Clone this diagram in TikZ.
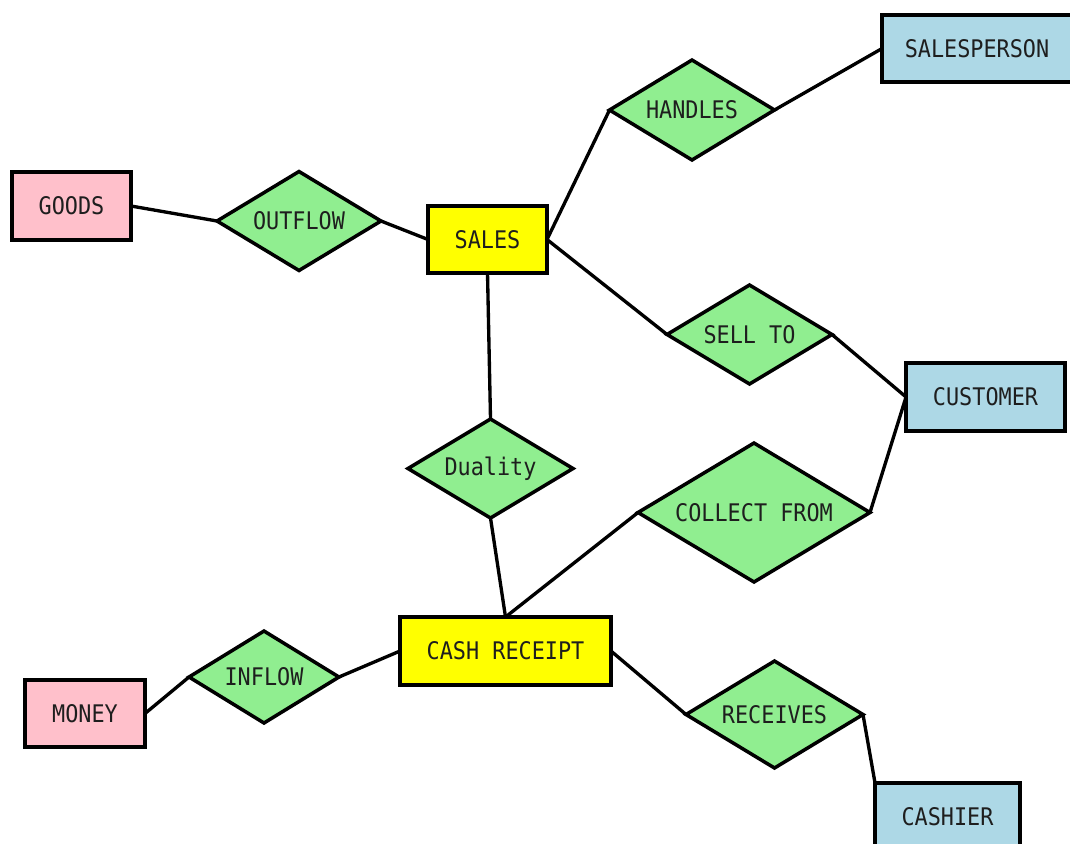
\documentclass[tikz,border=0pt]{standalone}
\usepackage{fontspec}
\newfontfamily\erfont{DejaVu Sans Mono}[FakeStretch=0.9]
\usetikzlibrary{shapes.geometric}
\definecolor{relgreen}{RGB}{144,238,144}
\definecolor{agentblue}{RGB}{173,216,230}
\definecolor{resourcepink}{RGB}{255,192,203}
\definecolor{eventyellow}{RGB}{255,255,0}
\definecolor{labelink}{RGB}{30,30,30}
\begin{document}
\begin{tikzpicture}[x=0.02cm,y=-0.02cm,
  base/.style={draw=black,line width=2pt,inner sep=0pt,outer sep=0pt,
    text=labelink,font=\erfont\fontsize{13.8}{15}\selectfont},
  entity/.style={base,rectangle},
  rel/.style={base,diamond,aspect=1.65,fill=relgreen},
  weak/.style={entity,fill=resourcepink},
  agent/.style={entity,fill=agentblue},
  event/.style={entity,fill=eventyellow},
  link/.style={line width=1.9pt}]
\useasboundingbox (0,0) rectangle (1070,843);
\clip (0,0) rectangle (1070,843);

% entities
\node[agent, minimum width=3.8cm, minimum height=1.34cm] (salesperson) at (977,48.5) {SALESPERSON};
\node[weak,  minimum width=2.38cm, minimum height=1.36cm] (goods) at (71.5,206) {GOODS};
\node[event, minimum width=2.38cm, minimum height=1.34cm] (sales) at (487.5,239.5) {SALES};
\node[agent, minimum width=3.18cm, minimum height=1.36cm] (customer) at (985.5,397) {CUSTOMER};
\node[event, minimum width=4.22cm, minimum height=1.36cm] (cash) at (505.5,651) {CASH RECEIPT};
\node[weak,  minimum width=2.4cm, minimum height=1.34cm] (money) at (85,713.5) {MONEY};
\node[agent, minimum width=2.9cm, minimum height=1.36cm] (cashier) at (947.5,817) {CASHIER};

% relationships
\node[rel, minimum width=3.3cm, minimum height=2.0cm] (handles) at (692,110) {HANDLES};
\node[rel, minimum width=3.28cm, minimum height=1.98cm] (outflow) at (299,221) {OUTFLOW};
\node[rel, minimum width=3.3cm, minimum height=1.98cm] (sellto) at (749.5,334.5) {SELL TO};
\node[rel, minimum width=3.3cm, minimum height=1.98cm] (duality) at (490.5,468.5) {Duality};
\node[rel, minimum width=4.64cm, minimum height=2.78cm] (collect) at (754,512.5) {COLLECT FROM};
\node[rel, minimum width=3.0cm, minimum height=1.84cm] (inflow) at (264,677) {INFLOW};
\node[rel, minimum width=3.54cm, minimum height=2.14cm] (receives) at (774.5,714.5) {RECEIVES};

% connectors
\draw[link] (goods.east) -- (outflow.west);
\draw[link] (outflow.east) -- (sales.west);
\draw[link] (sales.east) -- (handles.west);
\draw[link] (handles.east) -- (salesperson.west);
\draw[link] (sales.east) -- (sellto.west);
\draw[link] (sellto.east) -- (customer.west);
\draw[link] (sales.south) -- (duality.north);
\draw[link] (duality.south) -- (cash.north);
\draw[link] (cash.north) -- (collect.west);
\draw[link] (collect.east) -- (customer.west);
\draw[link] (cash.west) -- (inflow.east);
\draw[link] (inflow.west) -- (money.east);
\draw[link] (cash.east) -- (receives.west);
\draw[link] (receives.east) -- (cashier.north west);
\end{tikzpicture}
\end{document}
